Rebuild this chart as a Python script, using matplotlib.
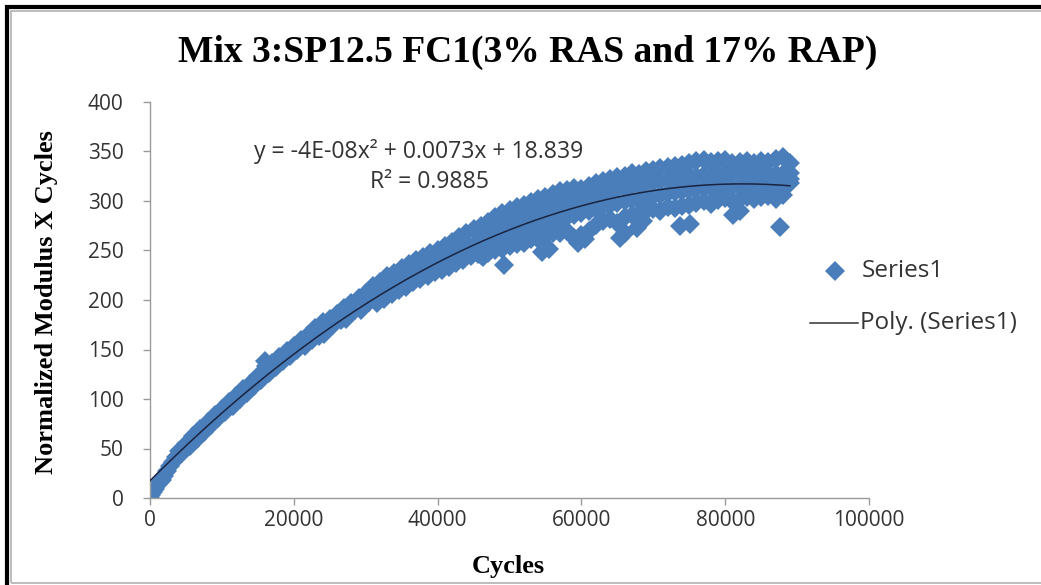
import numpy as np
import matplotlib
matplotlib.use("Agg")
import matplotlib.pyplot as plt
from matplotlib.lines import Line2D
from matplotlib.patches import Rectangle

title = "Mix 3:SP12.5 FC1(3% RAS and 17% RAP)"
x_label = "Cycles"
y_label = "Normalized Modulus X Cycles"
x_ticks = [0, 20000, 40000, 60000, 80000, 100000]
y_ticks = [0, 50, 100, 150, 200, 250, 300, 350, 400]
equation_text = "y = -4E-08x² + 0.0073x + 18.839"
r2_text = "R² = 0.9885"
legend_labels = ["Series1", "Poly. (Series1)"]

# early part of the test (0 - 30000 cycles)
cycles_early = [0, 200, 400, 700, 1000, 1300, 1600, 2000, 2400, 2800, 3200, 3600,
                4000, 4500, 5000, 5500, 6000, 6500, 7000, 7500, 8000, 8500, 9000, 9500,
                10000, 10500, 11000, 11500, 12000, 12500, 13000, 13500, 14000, 14500,
                15000, 15500, 16000, 16200, 16500, 17000, 17500, 18000, 18500, 19000,
                19500, 20000, 20500, 21000, 21500, 22000, 22500, 23000, 23500, 24000,
                24200, 24500, 25000, 25500, 26000, 26500, 27000, 27300, 27500, 28000,
                28500, 29000, 29300, 29500, 30000, 30500]
modulus_early = [0, 3, 6, 9, 13, 15, 18, 22, 27, 32, 36, 41,
                 47, 45, 55, 53, 63, 60, 70, 67, 77, 74, 84, 81,
                 90, 87, 97, 93, 103, 100, 110, 106, 116, 113,
                 123, 119, 138, 133, 126, 136, 132, 142, 138, 148,
                 143, 154, 149, 160, 154, 165, 160, 172, 164, 178,
                 166, 170, 181, 175, 186, 180, 192, 181, 184, 197,
                 190, 202, 190, 194, 207, 198]

# middle part (31000 - 45000 cycles)
cycles_mid = [31000, 31300, 31600, 32000, 32300, 32600, 33000, 33300, 33600,
              34000, 34300, 34600, 35000, 35300, 35600, 36000, 36300, 36600,
              37000, 37300, 37600, 38000, 38300, 38600, 39000, 39300, 39600,
              40000, 40300, 40600, 41000, 41300, 41600, 42000, 42300, 42600,
              43000, 43300, 43600, 44000, 44300, 44600, 45000, 45300, 45600]
modulus_mid = [214, 206, 197, 218, 210, 201, 224, 215, 206,
               227, 219, 210, 232, 223, 213, 236, 227, 218,
               240, 231, 221, 243, 234, 224, 247, 237, 228,
               251, 240, 230, 255, 244, 233, 259, 248, 237,
               264, 252, 240, 268, 255, 244, 272, 258, 246]

# late part (46000 - 89000 cycles): four readings per 1000 cycles
cycles_late = [46000, 47000, 48000, 49000, 50000, 51000, 52000, 53000, 54000, 55000,
               56000, 57000, 58000, 59000, 60000, 61000, 62000, 63000, 64000, 65000,
               66000, 67000, 68000, 69000, 70000, 71000, 72000, 73000, 74000, 75000,
               76000, 77000, 78000, 79000, 80000, 81000, 82000, 83000, 84000, 85000,
               86000, 87000, 88000, 89000]
modulus_late_upper = [275, 279, 284, 288, 291, 294, 296, 299, 302, 304,
                      307, 310, 311, 313, 312, 315, 318, 320, 322, 324,
                      325, 328, 327, 330, 331, 333, 334, 335, 336, 338,
                      340, 341, 339, 340, 341, 338, 339, 340, 338, 340,
                      339, 342, 344, 338]
modulus_late_high = [266, 270, 273, 276, 278, 281, 284, 287, 289, 292,
                     294, 296, 298, 300, 302, 304, 306, 308, 310, 312,
                     313, 315, 316, 318, 319, 320, 321, 322, 323, 324,
                     325, 326, 326, 327, 327, 327, 328, 328, 328, 328,
                     327, 327, 327, 328]
modulus_late_low = [254, 257, 260, 262, 264, 268, 270, 273, 275, 278,
                    280, 282, 284, 286, 288, 290, 292, 295, 296, 298,
                    300, 301, 302, 304, 305, 306, 308, 309, 310, 311,
                    312, 313, 313, 314, 315, 314, 315, 316, 315, 316,
                    315, 315, 316, 318]
modulus_late_lower = [245, 247, 250, 252, 255, 257, 258, 262, 262, 265,
                      268, 268, 270, 263, 266, 270, 276, 280, 282, 278,
                      284, 286, 288, 290, 292, 290, 294, 293, 295, 296,
                      298, 300, 297, 301, 303, 300, 302, 304, 302, 304,
                      305, 302, 306, 322]

# isolated low readings
cycles_outliers = [46300, 49200, 54500, 55500, 59500, 60500, 65400, 66000, 67700,
                   68500, 73700, 75100, 81100, 82000, 87600]
modulus_outliers = [243, 235, 248, 252, 258, 262, 263, 268, 273,
                    280, 275, 277, 286, 290, 274]

cycles = np.array(cycles_early + cycles_mid + cycles_late * 4 + cycles_outliers, dtype=float)
modulus = np.array(modulus_early + modulus_mid + modulus_late_upper + modulus_late_high
                   + modulus_late_low + modulus_late_lower + modulus_outliers, dtype=float)

W, H = 1041, 585
fig = plt.figure(figsize=(W / 100, H / 100), dpi=100)
ax = fig.add_axes([150 / W, 1 - 498 / H, (869 - 150) / W, (498 - 102) / H])

blue = "#4a7ebb"
MS = 10
ax.plot(cycles, modulus, linestyle="none", marker="D", markersize=MS,
        color=blue, markeredgewidth=0, zorder=2)

coef = np.polyfit(cycles, modulus, 2)
xs = np.linspace(0, cycles.max(), 300)
ax.plot(xs, np.polyval(coef, xs), color="#1a2440", lw=1.1, zorder=3)

ax.set_xlim(0, 100000)
ax.set_ylim(0, 400)
ax.set_xticks(x_ticks)
ax.set_yticks(y_ticks)
tick_font = dict(family="Open Sans", size=15)
ax.set_xticklabels([str(t) for t in x_ticks], **tick_font, color="#333333")
ax.set_yticklabels([str(t) for t in y_ticks], **tick_font, color="#333333")
for side in ["top", "right"]:
    ax.spines[side].set_visible(False)
for side in ["left", "bottom"]:
    ax.spines[side].set_color("#9a9a9a")
    ax.spines[side].set_linewidth(1.0)
ax.tick_params(axis="both", direction="out", length=5, color="#9a9a9a", width=1.0)
ax.tick_params(axis="x", pad=4)
ax.tick_params(axis="y", pad=14)

serif = ["Liberation Serif", "DejaVu Serif"]
fig.text(528 / W, 1 - 52 / H, title, ha="center", va="center",
         family=serif, weight="bold", fontsize=27)
fig.text(508 / W, 1 - 566 / H, x_label, ha="center", va="center",
         family=serif, weight="bold", fontsize=19)
fig.text(47 / W, 1 - 302 / H, y_label, ha="center", va="center", rotation=90,
         family=serif, weight="bold", fontsize=19)

fig.text(419 / W, 1 - 151 / H, equation_text, ha="center", va="center",
         family="Open Sans", fontsize=16.6, color="#333333")
fig.text(429 / W, 1 - 182 / H, r2_text, ha="center", va="center",
         family="Open Sans", fontsize=16.6, color="#333333")

# legend (no frame)
fig.add_artist(Line2D([835 / W], [1 - 271 / H], transform=fig.transFigure,
                      linestyle="none", marker="D", markersize=MS, color=blue,
                      markeredgewidth=0))
fig.add_artist(Line2D([810 / W, 858 / W], [1 - 323 / H, 1 - 323 / H],
                      transform=fig.transFigure, color="#333333", lw=1.1))
fig.text(862 / W, 1 - 271 / H, legend_labels[0], ha="left", va="center",
         family="Open Sans", fontsize=17.5, color="#333333")
fig.text(860 / W, 1 - 323 / H, legend_labels[1], ha="left", va="center",
         family="Open Sans", fontsize=17.5, color="#333333")

# outer chart border
fig.patches.append(Rectangle((7 / W, -0.02), 1.05, 1 - 7 / H + 0.02, transform=fig.transFigure,
                             fill=False, edgecolor="black", lw=3, zorder=10))
fig.patches.append(Rectangle((11 / W, 2 / H), 1.05, 1 - 13 / H, transform=fig.transFigure,
                             fill=False, edgecolor="#b0b0b0", lw=1.2, zorder=10))

fig.savefig("out.png", dpi=100, facecolor="white")
